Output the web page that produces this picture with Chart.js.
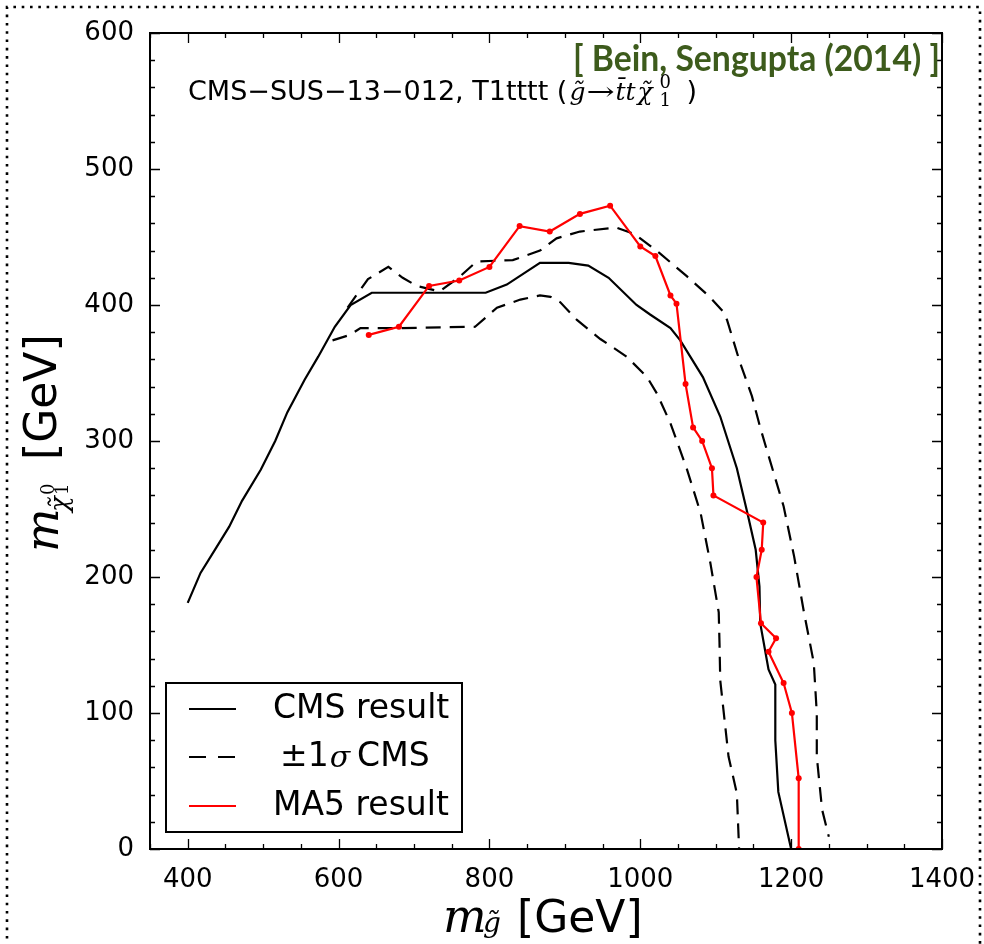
<!DOCTYPE html>
<html lang="en">
<head>
<meta charset="UTF-8">
<title>CMS-SUS-13-012 T1tttt</title>
<script src="https://cdn.jsdelivr.net/npm/chart.js@4.4.1/dist/chart.umd.min.js"></script>
<style>
  html, body { margin: 0; padding: 0; background: #fff; }
  #wrap { width: 984px; height: 944px; }
</style>
</head>
<body>
<div id="wrap"><canvas id="myChart" width="984" height="944"></canvas></div>
<script>
// CMS observed limit
var cmsMg   = [400,417,436,455,472,497,516,532,555,573,595,616,644,795,823,867,905,931,958,995,1013,1040,1053,1083,1106,1128,1142,1153,1158,1159,1170,1179,1179,1183,1200];
var cmsMchi = [181,203,220,237,256,279,300,321,345,362,384,400,409,409,415,431,431,429,420,400,393,383,374,347,318,280,247,220,193,166,132,121,80,42,0];
// +1 sigma
var upMg    = [612,626,639,666,685,704,734,761,783,831,867,889,920,968,993,1026,1062,1092,1110,1115,1132,1148,1159,1168,1190,1204,1217,1230,1234,1234,1241,1250];
var upMchi  = [398,409,419,428,420,414,410,421,432,433,440,449,454,457,452,438,421,406,395,389,358,333,310,293,252,215,174,137,100,68,29,9];
// -1 sigma
var loMg    = [592,615,629,681,781,810,841,867,881,894,916,947,982,1009,1022,1040,1062,1080,1093,1104,1105,1106,1117,1128,1131];
var loMchi  = [374,378,383,383,384,398,404,407,406,402,389,375,362,347,335,313,279,247,210,174,152,124,68,41,0];
// MadAnalysis 5 recast
var maMg    = [640,680,720,760,800,840,880,920,960,1000,1020,1040,1048,1060,1070,1082,1095,1097,1163,1161,1154,1160,1180,1170,1190,1201,1210,1210];
var maMchi  = [378,384,414,418,428,458,454,467,473,443,436,407,401,342,310,300,280,260,240,220,200,166,155,145,122,100,52,0];

var xTicks = [400,600,800,1000,1200,1400];
var yTicks = [0,100,200,300,400,500,600];
var legendLabels = ['CMS result', '\u00b11', 'MA5 result'];

function pts(xs, ys) {
  return xs.map(function (x, i) { return {x: x, y: ys[i]}; });
}

// frame, box, inward ticks, texts, legend
var decor = {
  id: 'decor',
  beforeDraw: function (chart) {
    var ctx = chart.ctx;
    ctx.save();
    ctx.fillStyle = '#fff';
    ctx.fillRect(0, 0, chart.width, chart.height);
    ctx.strokeStyle = '#000';
    ctx.lineWidth = 2.6;
    ctx.setLineDash([2.6, 5.7]);
    ctx.beginPath();
    ctx.moveTo(7, 980); ctx.lineTo(7, 7); ctx.lineTo(980, 7); ctx.lineTo(980, 980);
    ctx.stroke();
    ctx.restore();
  },
  afterDraw: function (chart) {
    var ctx = chart.ctx, a = chart.chartArea;
    var xs = chart.scales.x, ys = chart.scales.y;
    ctx.save();
    ctx.strokeStyle = '#000';
    ctx.lineWidth = 1.3;
    ctx.beginPath();
    for (var v = 350; v <= 1400; v += 50) {
      var px = Math.round(xs.getPixelForValue(v)) + 0.5;
      var len = (v % 200 === 0) ? 10 : 5;
      ctx.moveTo(px, a.bottom); ctx.lineTo(px, a.bottom - len);
      ctx.moveTo(px, a.top); ctx.lineTo(px, a.top + len);
    }
    for (var w = 0; w <= 600; w += 20) {
      var py = Math.round(ys.getPixelForValue(w)) + 0.5;
      var l2 = (w % 100 === 0) ? 10 : 5;
      ctx.moveTo(a.left, py); ctx.lineTo(a.left + l2, py);
      ctx.moveTo(a.right, py); ctx.lineTo(a.right - l2, py);
    }
    ctx.stroke();
    ctx.lineWidth = 2;
    ctx.strokeRect(a.left, a.top, a.right - a.left, a.bottom - a.top);

    // green citation
    ctx.fillStyle = '#3d5b1c';
    ctx.font = 'bold 37px Lato';
    ctx.textBaseline = 'alphabetic';
    var cite = '[ Bein, Sengupta (2014) ]';
    var cw = ctx.measureText(cite).width;
    ctx.save();
    ctx.translate(573, 71);
    ctx.scale(367 / cw, 1);
    ctx.fillText(cite, 0, 0);
    ctx.restore();

    // analysis label
    ctx.fillStyle = '#000';
    var x0 = 188, base = 100;
    ctx.font = '27px "DejaVu Sans"';
    var t1 = 'CMS\u2212SUS\u221213\u2212012, T1tttt (';
    ctx.fillText(t1, x0, base);
    x0 += ctx.measureText(t1).width;
    ctx.font = 'italic 25px "DejaVu Serif"';
    ctx.fillText('g\u0303', x0 + 2, base);
    ctx.font = '25px "DejaVu Serif"';
    ctx.save();
    ctx.translate(x0 + 19, 0);
    ctx.scale(1.35, 1);
    ctx.fillText('\u2192', 0, base);
    ctx.restore();
    ctx.font = 'italic 25px "DejaVu Serif"';
    ctx.fillText('t\u0304t', x0 + 48, base);
    ctx.fillText('\u03c7\u0303', x0 + 70, base);
    ctx.font = '18px "DejaVu Serif"';
    ctx.fillText('0', x0 + 92, base - 12);
    ctx.fillText('1', x0 + 92, base + 6);
    ctx.font = '27px "DejaVu Sans"';
    ctx.fillText(')', x0 + 119, base);

    // x title
    ctx.font = 'italic 46px "DejaVu Serif"';
    ctx.fillText('m', 443, 932);
    ctx.font = 'italic 28px "DejaVu Serif"';
    ctx.fillText('g\u0303', 483, 932);
    ctx.font = '44px "DejaVu Sans"';
    ctx.fillText('[GeV]', 517, 932);

    // y title (rotated)
    ctx.save();
    ctx.translate(58, 552);
    ctx.rotate(-Math.PI / 2);
    ctx.font = 'italic 46px "DejaVu Serif"';
    ctx.fillText('m', 0, 0);
    ctx.font = 'italic 26px "DejaVu Serif"';
    ctx.fillText('\u03c7\u0303', 40, 10);
    ctx.font = '18px "DejaVu Serif"';
    ctx.fillText('0', 57, -4);
    ctx.fillText('1', 57, 10);
    ctx.font = '44px "DejaVu Sans"';
    ctx.fillText('[GeV]', 92, -2);
    ctx.restore();

    // legend
    ctx.fillStyle = '#fff';
    ctx.fillRect(166, 683, 296, 149);
    ctx.lineWidth = 2;
    ctx.strokeStyle = '#000';
    ctx.strokeRect(166, 683, 296, 149);
    var rows = [709, 757, 806];
    var styles = chart.data.datasets;
    var order = [0, 1, 3];
    ctx.textBaseline = 'middle';
    for (var r = 0; r < 3; r++) {
      var ds = styles[order[r]];
      ctx.strokeStyle = ds.borderColor;
      ctx.lineWidth = ds.borderWidth;
      ctx.setLineDash(ds.borderDash ? [17, 12] : []);
      ctx.beginPath();
      ctx.moveTo(189, rows[r]); ctx.lineTo(236, rows[r]);
      ctx.stroke();
      ctx.setLineDash([]);
      ctx.fillStyle = '#000';
      ctx.font = '33px "DejaVu Sans"';
      if (r === 1) {
        ctx.fillText(legendLabels[1], 280, rows[r]);
        var lx = 280 + ctx.measureText(legendLabels[1]).width;
        ctx.font = 'italic 30px "DejaVu Serif"';
        ctx.fillText('\u03c3', lx + 1, rows[r] + 2);
        lx += ctx.measureText('\u03c3').width + 8;
        ctx.font = '33px "DejaVu Sans"';
        ctx.fillText('CMS', lx, rows[r]);
      } else {
        ctx.fillText(legendLabels[r], 273, rows[r]);
      }
    }
    ctx.restore();
  }
};

var tickFont = {family: 'DejaVu Sans', size: 26};
function plainLabel(v) { return String(v); }

new Chart(document.getElementById('myChart').getContext('2d'), {
  type: 'scatter',
  data: {
    datasets: [
      { label: 'CMS result', data: pts(cmsMg, cmsMchi), showLine: true, borderColor: '#000', borderWidth: 2.2, pointRadius: 0, order: 3 },
      { label: '+1 sigma', data: pts(upMg, upMchi), showLine: true, borderColor: '#000', borderWidth: 2.2, borderDash: [15, 9], pointRadius: 0, order: 2 },
      { label: '-1 sigma', data: pts(loMg, loMchi), showLine: true, borderColor: '#000', borderWidth: 2.2, borderDash: [15, 9], pointRadius: 0, order: 2 },
      { label: 'MA5 result', data: pts(maMg, maMchi), showLine: true, borderColor: '#ff0000', borderWidth: 2.2, pointRadius: 3, pointBackgroundColor: '#ff0000', pointBorderWidth: 0, order: 0 }
    ]
  },
  options: {
    responsive: false,
    animation: false,
    devicePixelRatio: 1,
    layout: { padding: { top: 33, right: 42, left: 0, bottom: 0 } },
    plugins: { legend: { display: false }, tooltip: { enabled: false } },
    scales: {
      x: {
        type: 'linear', min: 350, max: 1400,
        afterBuildTicks: function (s) { s.ticks = xTicks.map(function (v) { return {value: v}; }); },
        afterFit: function (s) { s.height = 95; },
        grid: { display: false }, border: { display: false },
        ticks: { font: tickFont, color: '#000', padding: 8, maxRotation: 0, autoSkip: false, callback: plainLabel }
      },
      y: {
        type: 'linear', min: 0, max: 600,
        afterBuildTicks: function (s) { s.ticks = yTicks.map(function (v) { return {value: v}; }); },
        afterFit: function (s) { s.width = 150; },
        grid: { display: false }, border: { display: false },
        ticks: { font: tickFont, color: '#000', padding: 8, autoSkip: false, callback: plainLabel }
      }
    }
  },
  plugins: [decor]
});
</script>
</body>
</html>
